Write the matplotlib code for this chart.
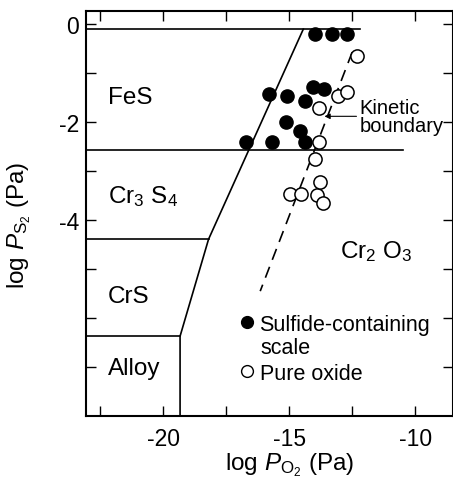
import numpy as np
import matplotlib.pyplot as plt
from matplotlib.lines import Line2D

plt.rcParams['font.family'] = ['Liberation Sans', 'DejaVu Sans']
plt.rcParams['mathtext.fontset'] = 'custom'
plt.rcParams['mathtext.rm'] = 'Liberation Sans'
plt.rcParams['mathtext.it'] = 'Liberation Sans:italic'
plt.rcParams['axes.unicode_minus'] = False

# Measured scale compositions: log pO2, log pS2 (Pa)
sulfide_x = [-13.97, -13.29, -12.70, -15.79, -15.08, -14.37, -14.05, -13.61,
             -15.12, -14.56, -16.71, -15.67, -14.37]
sulfide_y = [-0.20, -0.20, -0.20, -1.43, -1.47, -1.57, -1.29, -1.33,
             -2.00, -2.18, -2.41, -2.41, -2.41]
oxide_x = [-12.30, -13.06, -12.70, -13.81, -13.81, -13.97, -14.96, -14.52,
           -13.89, -13.77, -13.65]
oxide_y = [-0.65, -1.47, -1.39, -1.71, -2.41, -2.76, -3.47, -3.47,
           -3.49, -3.22, -3.65]

# Thermodynamic phase boundaries
x_min, x_max = -23.06, -8.5
y_min, y_max = -8.0, 0.27
oxide_bound_x = [-14.44, -18.2, -19.33, -19.33]
oxide_bound_y = [-0.1, -4.39, -6.37, -8.0]
h_levels = [-0.1, -2.57, -4.39, -6.37]
h_ends = [-12.2, -10.5, -18.2, -19.33]

# Kinetic boundary (dashed)
kin_x = [-12.5, -16.15]
kin_y = [-0.57, -5.45]

# Phase field labels
phase_names = ['FeS', r'Cr$_3$ S$_4$', 'CrS', 'Alloy', r'Cr$_2$ O$_3$']
phase_x = [-22.18, -22.18, -22.18, -22.18, -12.98]
phase_y = [-1.61, -3.63, -5.67, -7.14, -4.76]

fig = plt.figure(figsize=(4.53, 4.81), dpi=100)
ax = fig.add_axes([0.19, 0.133, 0.81, 0.842])

lw = 1.2
ax.plot(oxide_bound_x, oxide_bound_y, color='black', lw=lw)
for yl, xe in zip(h_levels, h_ends):
    ax.plot([x_min, xe], [yl, yl], color='black', lw=lw)
ax.plot(kin_x, kin_y, color='black', lw=lw, dashes=(7, 4.5))

ax.plot(sulfide_x, sulfide_y, 'o', color='black', ms=9.5, zorder=3)
ax.plot(oxide_x, oxide_y, 'o', mfc='white', mec='black', mew=1.1, ms=9.5, zorder=3)

fs = 17.5
for name, px, py in zip(phase_names, phase_x, phase_y):
    ax.text(px, py, name, fontsize=fs, va='baseline', ha='left')

ax.annotate('Kinetic\nboundary', xy=(-13.6, -1.88), xytext=(-12.22, -1.88),
            fontsize=14.5, va='center', ha='left', linespacing=0.95,
            arrowprops=dict(arrowstyle='-|>', color='black', lw=0.8,
                            mutation_scale=8, shrinkA=0, shrinkB=0))

lfs = 15.5
handles = [Line2D([], [], ls='none', marker='o', color='black', ms=8.5),
           Line2D([], [], ls='none', marker='o', mfc='white', mec='black',
                  mew=1.0, ms=8.5)]
ax.legend(handles, ['Sulfide-containing', 'Pure oxide'],
          loc='upper left', bbox_to_anchor=(0.42, 0.252), frameon=False,
          fontsize=lfs, handlelength=0.6, handletextpad=0.3,
          labelspacing=1.28, borderaxespad=0, borderpad=0)
ax.text(0.474, 0.170, 'scale', transform=ax.transAxes, fontsize=lfs,
        va='center', ha='left')

ax.set_xlim(x_min, x_max)
ax.set_ylim(y_min, y_max)

x_ticks = [-22.5, -20, -17.5, -15, -12.5, -10]
ax.set_xticks(x_ticks)
ax.set_xticklabels(['', '-20', '', '-15', '', '-10'])
y_ticks = [0, -1, -2, -3, -4, -5, -6, -7]
ax.set_yticks(y_ticks)
ax.set_yticklabels(['0', '', '-2', '', '-4', '', '', ''])
ax.tick_params(direction='in', length=7, width=1.0, top=True, right=True,
               labelsize=16.5)
ax.tick_params(axis='x', pad=8)
ax.tick_params(axis='y', pad=5)
for s in ax.spines.values():
    s.set_linewidth(1.5)

ax.set_xlabel(r'log $P_{\mathrm{O}_2}$ (Pa)', fontsize=fs)
ax.set_ylabel(r'log $P_{\mathrm{S}_2}$ (Pa)', fontsize=fs)
ax.xaxis.set_label_coords(0.556, -0.086)
ax.yaxis.set_label_coords(-0.144, 0.474)

fig.savefig('out.png', dpi=100)
